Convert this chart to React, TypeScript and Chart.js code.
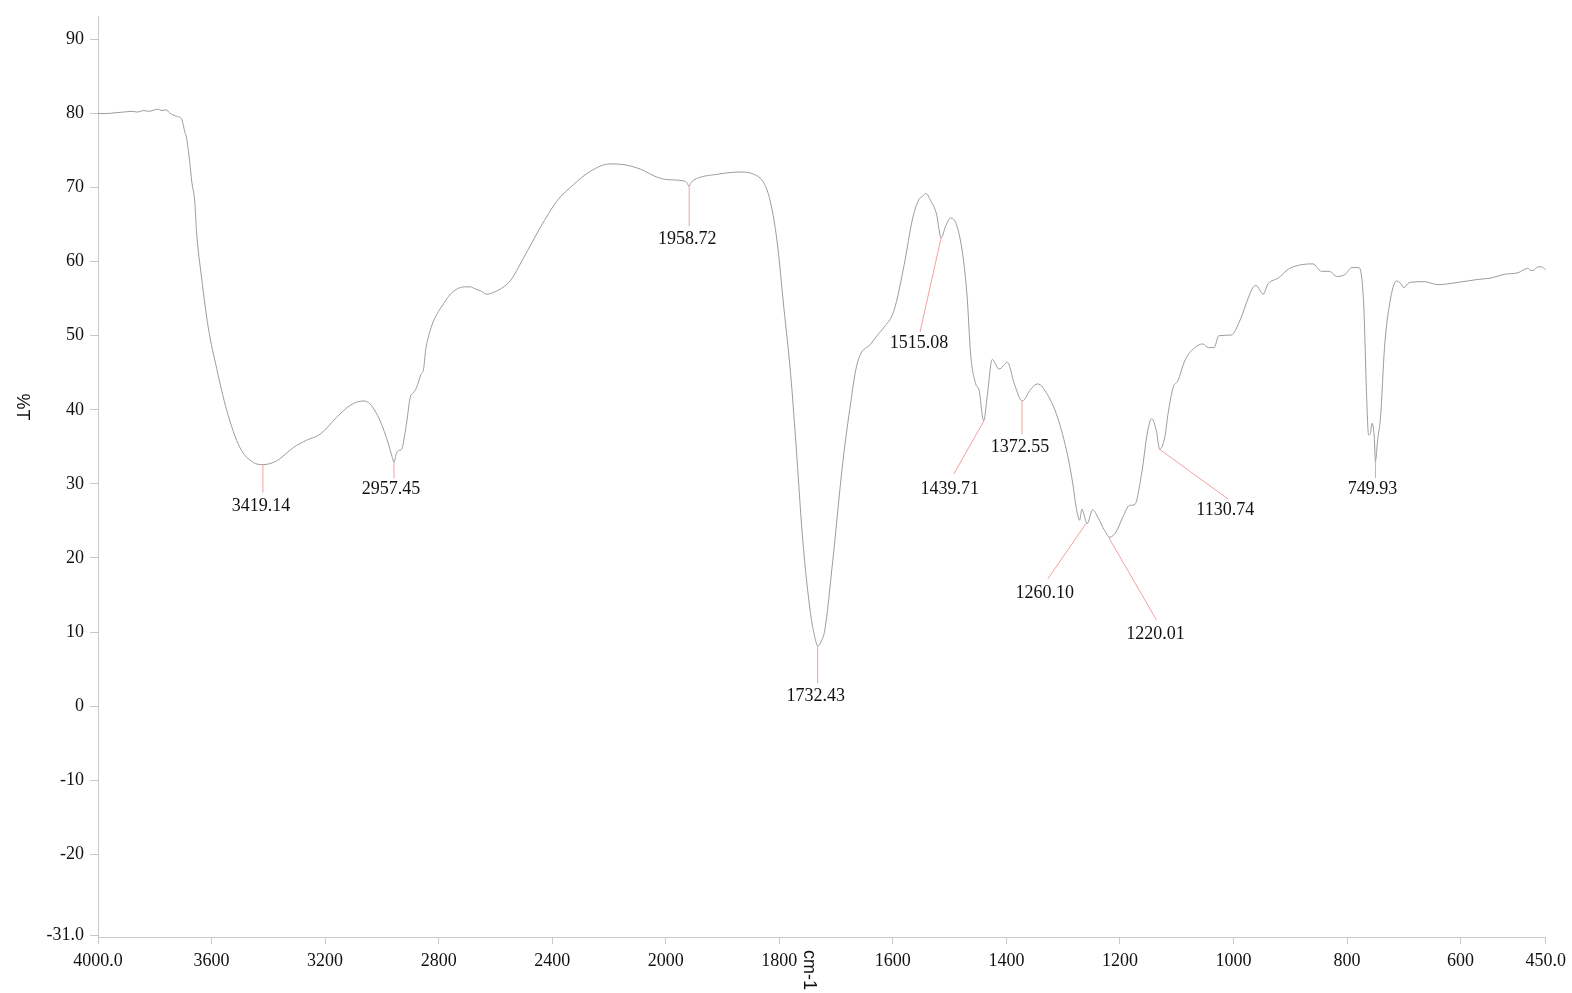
import React, { useEffect, useRef } from "react";
import { Chart, registerables } from "chart.js";

Chart.register(...registerables);

// ---- Spectrum data (wavenumber cm-1, %T) ----
const WAVENUMBERS = [
  4000, 3970, 3940, 3910, 3880, 3860, 3840, 3820, 3800, 3790, 3775, 3760, 3748, 3735, 3720, 3706,
  3694, 3688, 3677, 3670, 3659, 3653, 3635, 3612, 3582, 3547, 3500, 3453, 3419, 3371, 3312, 3265,
  3218, 3159, 3112, 3065, 3042, 3006, 2977, 2965, 2957, 2950, 2942, 2930, 2920, 2912, 2900, 2889,
  2878, 2862, 2853, 2846, 2835, 2818, 2800, 2783, 2759, 2736, 2710, 2689, 2670, 2654, 2630, 2610,
  2583, 2548, 2501, 2442, 2383, 2325, 2266, 2196, 2148, 2090, 2030, 2000, 1968, 1963, 1959, 1955,
  1951, 1909, 1868, 1845, 1827, 1816, 1804, 1792, 1780, 1771, 1759, 1745, 1738, 1732, 1726, 1720,
  1706, 1688, 1674, 1665, 1657, 1640, 1628, 1616, 1598, 1580, 1565, 1554, 1548, 1542, 1533, 1523,
  1515, 1507, 1498, 1488, 1477, 1469, 1463, 1454, 1448, 1440, 1434, 1425, 1413, 1398, 1386, 1372,
  1357, 1345, 1328, 1310, 1292, 1283, 1277, 1271, 1267, 1262, 1258, 1248, 1239, 1227, 1218, 1207,
  1195, 1183, 1174, 1162, 1151, 1144, 1136, 1130, 1121, 1115, 1106, 1098, 1086, 1071, 1054, 1044,
  1034, 1026, 1004, 989, 974, 966, 960, 954, 948, 939, 921, 903, 880, 860, 845, 831,
  818, 803, 792, 780, 774, 770, 766, 762, 759, 756, 752, 750, 746, 741, 734, 725,
  713, 705, 700, 690, 664, 640, 605, 570, 546, 523, 499, 482, 476, 470, 464, 458, 450,
];
const TRANSMITTANCE = [
  80.0, 80.0, 80.1, 80.2, 80.3, 80.2, 80.4, 80.3, 80.5, 80.6, 80.4, 80.5, 80.1, 79.8, 79.6, 79.3,
  77.5, 76.7, 73.5, 70.9, 68.0, 64.1, 57.8, 51.2, 45.6, 40.0, 34.9, 32.9, 32.6, 33.1, 34.9, 35.9,
  36.7, 39.0, 40.6, 41.2, 40.8, 38.5, 35.4, 33.8, 32.9, 34.0, 34.5, 34.7, 36.5, 38.5, 41.7, 42.3,
  43.0, 44.8, 45.5, 48.0, 50.0, 52.0, 53.3, 54.3, 55.6, 56.3, 56.6, 56.6, 56.3, 56.1, 55.6, 55.8,
  56.3, 57.4, 60.5, 64.6, 68.2, 70.4, 72.2, 73.2, 73.1, 72.5, 71.4, 71.1, 70.9, 70.7, 70.2, 70.7,
  71.0, 71.8, 72.1, 71.8, 70.6, 68.2, 62.8, 53.8, 44.8, 35.8, 22.7, 12.5, 9.5, 8.1, 8.8, 10.2,
  19.5, 33.0, 41.1, 45.5, 47.5, 48.8, 50.0, 51.1, 53.4, 59.6, 65.9, 68.4, 68.8, 69.2, 68.2, 66.4,
  63.2, 64.8, 65.9, 65.0, 61.0, 55.1, 47.5, 43.5, 42.6, 38.5, 41.7, 46.8, 45.5, 46.4, 43.5, 41.2,
  42.8, 43.5, 42.1, 39.0, 33.8, 30.0, 26.8, 25.1, 26.6, 25.5, 24.6, 26.5, 25.5, 23.7, 22.8, 23.5,
  25.5, 27.1, 27.2, 31.3, 37.2, 38.8, 37.2, 34.7, 36.3, 39.6, 43.1, 43.9, 46.6, 48.2, 48.9, 48.4,
  48.4, 50.0, 50.1, 52.0, 55.1, 56.5, 56.8, 56.2, 55.6, 57.0, 57.8, 59.0, 59.6, 59.7, 58.7, 58.7,
  58.0, 58.3, 59.2, 59.2, 57.8, 53.0, 43.0, 36.6, 36.8, 38.2, 36.3, 33.1, 36.0, 39.0, 48.4, 54.3,
  57.4, 57.0, 56.5, 57.2, 57.3, 56.9, 57.2, 57.6, 57.8, 58.3, 58.5, 59.1, 58.8, 58.9, 59.3, 59.3, 58.9,
];

// ---- Peak annotations ----
const PEAK_WAVENUMBERS = [3419.14, 2957.45, 1958.72, 1732.43, 1515.08, 1439.71, 1372.55, 1260.1, 1220.01, 1130.74, 749.93];
const PEAK_VALUES = [32.6, 32.9, 70.2, 8.1, 63.2, 38.5, 41.2, 24.6, 22.8, 34.7, 33.1];
const PEAK_LABELS = ["3419.14", "2957.45", "1958.72", "1732.43", "1515.08", "1439.71", "1372.55", "1260.10", "1220.01", "1130.74", "749.93"];

// ---- Axis ticks ----
const X_TICK_VALUES = [4000, 3600, 3200, 2800, 2400, 2000, 1800, 1600, 1400, 1200, 1000, 800, 600, 450];
const X_TICK_LABELS = ["4000.0", "3600", "3200", "2800", "2400", "2000", "1800", "1600", "1400", "1200", "1000", "800", "600", "450.0"];
const Y_TICK_VALUES = [-31, -20, -10, 0, 10, 20, 30, 40, 50, 60, 70, 80, 90];
const Y_TICK_LABELS = ["-31.0", "-20", "-10", "0", "10", "20", "30", "40", "50", "60", "70", "80", "90"];

// Layout (pixel offsets of leader-line end and label centre, relative to peak point)
const LABEL_LAYOUT = [
  { lx: 0, ly: 28, tx: -2, ty: 42 },
  { lx: 0, ly: 16, tx: -3, ty: 27 },
  { lx: 0, ly: 40, tx: -2, ty: 53 },
  { lx: 0, ly: 37, tx: -2, ty: 50 },
  { lx: -21, ly: 94, tx: -22, ty: 105 },
  { lx: -30, ly: 53, tx: -34, ty: 68 },
  { lx: 0, ly: 33, tx: -2, ty: 46 },
  { lx: -38, ly: 55, tx: -41, ty: 69 },
  { lx: 48, ly: 83, tx: 47, ty: 97 },
  { lx: 69, ly: 50, tx: 66, ty: 61 },
  { lx: 0, ly: 17, tx: -3, ty: 28 },
];

// The instrument axis is compressed 2x above 2000 cm-1
const toT = (x: number) => (x > 2000 ? 2000 + (x - 2000) / 2 : x);

const SERIF = "'Liberation Serif', 'Times New Roman', serif";
const SANS = "'Liberation Sans', Arial, sans-serif";

export default function App() {
  const canvasRef = useRef<HTMLCanvasElement | null>(null);

  useEffect(() => {
    document.body.style.margin = "0";
    document.body.style.overflow = "hidden";
    const canvas = canvasRef.current;
    if (!canvas) return;

    const annotationPlugin = {
      id: "peakLabels",
      afterDatasetsDraw(chart: any) {
        const ctx = chart.ctx;
        const xs = chart.scales.x;
        const ys = chart.scales.y;
        ctx.save();
        PEAK_WAVENUMBERS.forEach((wn, i) => {
          const px = xs.getPixelForValue(toT(wn));
          const py = ys.getPixelForValue(PEAK_VALUES[i]);
          const l = LABEL_LAYOUT[i];
          ctx.strokeStyle = "#f2a0a0";
          ctx.lineWidth = 1;
          ctx.beginPath();
          ctx.moveTo(px, py);
          ctx.lineTo(px + l.lx, py + l.ly);
          ctx.stroke();
          ctx.fillStyle = "#111";
          ctx.font = `18px ${SERIF}`;
          ctx.textAlign = "center";
          ctx.textBaseline = "middle";
          ctx.fillText(PEAK_LABELS[i], px + l.tx, py + l.ty);
        });
        ctx.restore();
      },
      afterDraw(chart: any) {
        const ctx = chart.ctx;
        const area = chart.chartArea;
        ctx.save();
        ctx.fillStyle = "#111";
        ctx.font = `18px ${SANS}`;
        ctx.textBaseline = "middle";
        ctx.textAlign = "center";
        // %T (reads top to bottom)
        ctx.save();
        ctx.translate(22, 407);
        ctx.rotate(Math.PI / 2);
        ctx.fillText("%T", 0, 0);
        ctx.restore();
        // cm-1
        const cx = chart.scales.x.getPixelForValue(1748);
        ctx.save();
        ctx.translate(cx, area.bottom + 13);
        ctx.rotate(Math.PI / 2);
        ctx.textAlign = "left";
        ctx.fillText("cm-1", 0, 0);
        ctx.restore();
        ctx.restore();
      },
    };

    const chart = new Chart(canvas, {
      type: "line",
      data: {
        datasets: [
          {
            data: WAVENUMBERS.map((x, i) => ({ x: toT(x), y: TRANSMITTANCE[i] })),
            borderColor: "#9c9c9c",
            borderWidth: 1,
            pointRadius: 0,
            fill: false,
            cubicInterpolationMode: "monotone",
          },
        ],
      },
      options: {
        responsive: false,
        animation: false,
        events: [],
        layout: { padding: { top: 9.5, right: 26, left: 0, bottom: 0 } },
        plugins: { legend: { display: false }, tooltip: { enabled: false }, title: { display: false } },
        scales: {
          x: {
            type: "linear",
            reverse: true,
            min: 450,
            max: 3000,
            afterBuildTicks: (scale: any) => {
              scale.ticks = X_TICK_VALUES.map((v) => ({ value: toT(v) }));
            },
            afterFit: (scale: any) => {
              scale.height = 56;
            },
            ticks: {
              autoSkip: false,
              maxRotation: 0,
              minRotation: 0,
              padding: 6,
              color: "#111",
              font: { family: SERIF, size: 18 },
              callback: (_v: any, index: number) => X_TICK_LABELS[index],
            },
            grid: { drawOnChartArea: false, drawTicks: true, tickLength: 7, color: "#c8c8c8" },
            border: { display: true, color: "#c8c8c8" },
          },
          y: {
            type: "linear",
            min: -31.17,
            max: 93.06,
            afterBuildTicks: (scale: any) => {
              scale.ticks = Y_TICK_VALUES.map((v) => ({ value: v }));
            },
            afterFit: (scale: any) => {
              scale.width = 98;
            },
            ticks: {
              autoSkip: false,
              padding: 6,
              color: "#111",
              font: { family: SERIF, size: 18 },
              callback: (_v: any, index: number) => Y_TICK_LABELS[index],
            },
            grid: { drawOnChartArea: false, drawTicks: true, tickLength: 8, color: "#c8c8c8" },
            border: { display: true, color: "#c8c8c8" },
          },
        },
      },
      plugins: [annotationPlugin],
    } as any);

    return () => chart.destroy();
  }, []);

  return (
    <div style={{ width: 1572, height: 993, background: "#fff" }}>
      <canvas ref={canvasRef} width={1572} height={993} style={{ display: "block" }} />
    </div>
  );
}
